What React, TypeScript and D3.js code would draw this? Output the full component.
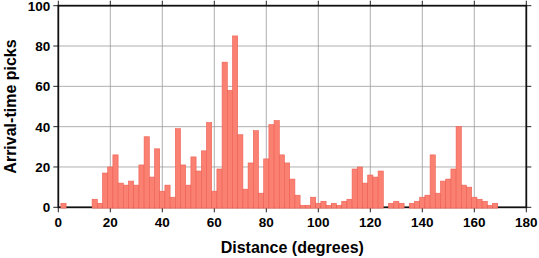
import React from "react";
import * as d3 from "d3";

// Bin centres (degrees), bin width 2
const binCenters: number[] = [
  2, 4, 6, 8, 10, 12, 14, 16, 18, 20, 22, 24, 26, 28, 30, 32, 34, 36, 38, 40,
  42, 44, 46, 48, 50, 52, 54, 56, 58, 60, 62, 64, 66, 68, 70, 72, 74, 76, 78, 80,
  82, 84, 86, 88, 90, 92, 94, 96, 98, 100, 102, 104, 106, 108, 110, 112, 114, 116, 118, 120,
  122, 124, 126, 128, 130, 132, 134, 136, 138, 140, 142, 144, 146, 148, 150, 152, 154, 156, 158, 160,
  162, 164, 166, 168,
];
const counts: number[] = [
  2, 0, 0, 0, 0, 0, 4, 2, 17, 20, 26, 12, 11, 13, 11, 21, 35, 15, 29, 8,
  11, 5, 39, 21, 11, 25, 18, 28, 42, 8, 19, 72, 58, 85, 36, 9, 22, 38, 7, 24,
  41, 43, 26, 22, 14, 6, 1, 1, 5, 2, 3, 1, 2, 1, 3, 4, 19, 20, 12, 16,
  15, 18, 0, 2, 3, 2, 0, 2, 3, 5, 6, 26, 7, 13, 14, 19, 40, 11, 10, 5,
  4, 3, 1, 2,
];
const binWidth = 2;
const xTicks: number[] = [0, 20, 40, 60, 80, 100, 120, 140, 160, 180];
const yTicks: number[] = [0, 20, 40, 60, 80, 100];
const xTitle = "Distance (degrees)";
const yTitle = "Arrival-time picks";

const W = 539;
const H = 258;
const L = 58.3;
const R = 526.3;
const T = 5.7;
const B = 207.3;

export default function App() {
  const x = d3.scaleLinear().domain([0, 180]).range([L, R]);
  const y = d3.scaleLinear().domain([0, 100]).range([B, T]);
  const font = "'Liberation Sans', Arial, Helvetica, sans-serif";
  const bars = binCenters.map((c, i) => ({ c, v: counts[i] })).filter((d) => d.v > 0);
  return (
    <svg
      width={W}
      height={H}
      style={{ position: "absolute", left: 0, top: 0, background: "#fff" }}
      fontFamily={font}
    >
      {/* grid */}
      {xTicks.slice(1, -1).map((t) => (
        <line key={"gx" + t} x1={x(t)} x2={x(t)} y1={T} y2={B} stroke="#9a9a9a" strokeWidth={0.8} />
      ))}
      {yTicks.slice(1, -1).map((t) => (
        <line key={"gy" + t} x1={L} x2={R} y1={y(t)} y2={y(t)} stroke="#9a9a9a" strokeWidth={0.8} />
      ))}
      {/* ticks */}
      {xTicks.map((t) => (
        <g key={"tx" + t}>
          <line x1={x(t)} x2={x(t)} y1={B} y2={B + 5} stroke="#222" strokeWidth={1} />
          <line x1={x(t)} x2={x(t)} y1={T} y2={T - 5} stroke="#222" strokeWidth={1} />
          <text
            x={x(t)}
            y={B + 20}
            textAnchor="middle"
            fontSize={13.5}
            fontWeight="bold"
            fill="#000"
          >
            {t}
          </text>
        </g>
      ))}
      {yTicks.map((t) => (
        <g key={"ty" + t}>
          <line x1={L - 5} x2={L} y1={y(t)} y2={y(t)} stroke="#222" strokeWidth={1} />
          <line x1={R} x2={R + 5} y1={y(t)} y2={y(t)} stroke="#222" strokeWidth={1} />
          <text
            x={L - 8}
            y={y(t) + 5}
            textAnchor="end"
            fontSize={13.5}
            fontWeight="bold"
            fill="#000"
          >
            {t}
          </text>
        </g>
      ))}
      {/* frame */}
      <rect x={L} y={T} width={R - L} height={B - T} fill="none" stroke="#111" strokeWidth={1.8} />
      {/* bars */}
      {bars.map((d) => (
        <rect
          key={"b" + d.c}
          x={x(d.c - binWidth / 2)}
          y={y(d.v)}
          width={x(d.c + binWidth / 2) - x(d.c - binWidth / 2)}
          height={B - y(d.v) + 0.8}
          fill="#FA8072"
          stroke="#EE5E52"
          strokeWidth={0.6}
        />
      ))}
      {/* titles */}
      <text
        x={(L + R) / 2}
        y={253}
        textAnchor="middle"
        fontSize={16}
        fontWeight="bold"
        fill="#000"
      >
        {xTitle}
      </text>
      <text
        transform={`translate(15.5, ${(T + B) / 2}) rotate(-90)`}
        textAnchor="middle"
        fontSize={16}
        fontWeight="bold"
        fill="#000"
      >
        {yTitle}
      </text>
    </svg>
  );
}
